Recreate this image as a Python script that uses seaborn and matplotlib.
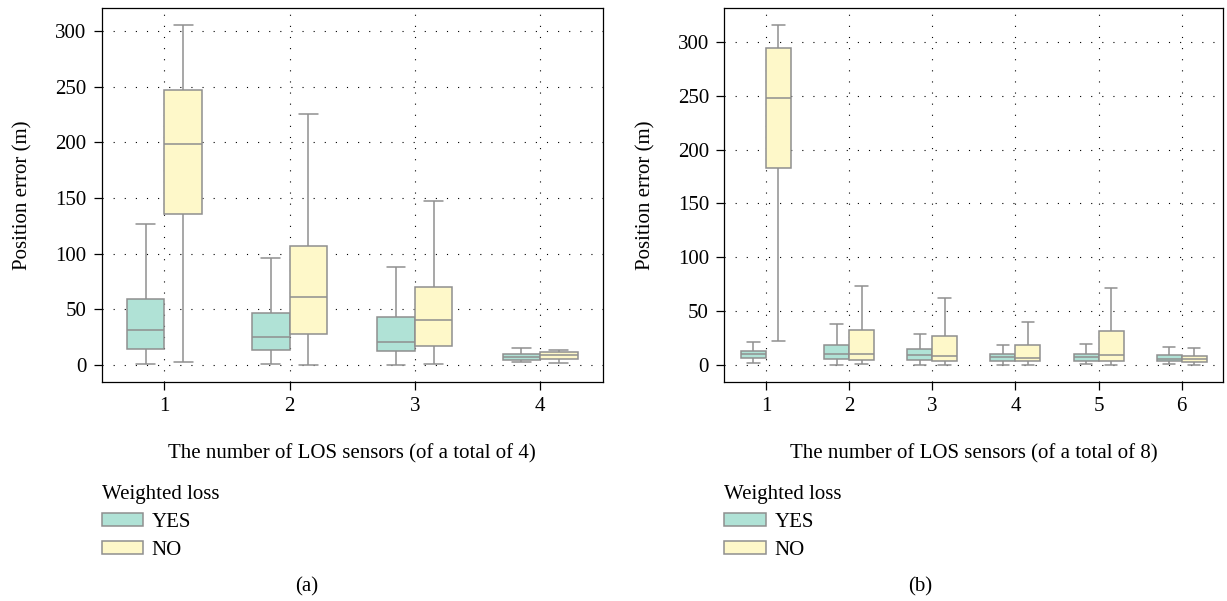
import numpy as np
import pandas as pd
import matplotlib
matplotlib.use("Agg")
import matplotlib.pyplot as plt
import seaborn as sns

# box summaries: [min, q1, median, q3, max]
los_a = ["1", "2", "3", "4"]
yes_a = [[0.6, 14.7, 31.7, 59.6, 126.7],
         [0.6, 13.5, 24.9, 46.4, 96.4],
         [0.0, 12.9, 20.4, 43.4, 88.3],
         [2.4, 4.5, 7.2, 10.2, 15.6]]
no_a = [[2.7, 136.0, 198.3, 246.5, 305.0],
        [0.0, 27.9, 61.0, 106.6, 225.0],
        [0.6, 17.1, 40.1, 70.4, 147.3],
        [1.5, 5.1, 8.7, 12.0, 13.5]]

los_b = ["1", "2", "3", "4", "5", "6"]
yes_b = [[1.5, 6.5, 9.9, 13.0, 21.4],
         [0.0, 5.3, 10.5, 18.6, 37.8],
         [0.0, 5.0, 9.0, 14.6, 28.8],
         [0.0, 3.7, 7.1, 9.9, 18.3],
         [0.6, 4.0, 7.1, 10.2, 19.5],
         [0.6, 3.7, 5.9, 9.6, 16.7]]
no_b = [[22.3, 183.3, 248.3, 294.0, 315.5],
        [0.6, 5.0, 9.9, 32.2, 73.0],
        [0.0, 3.7, 8.0, 27.2, 62.0],
        [0.0, 3.7, 6.8, 18.3, 40.2],
        [0.0, 3.7, 9.3, 31.6, 71.5],
        [0.0, 2.5, 5.6, 8.7, 16.1]]

hue_order = ["YES", "NO"]
colors = {"YES": "#b0e2d6", "NO": "#fef8c9"}
FS = 15


def build_frame(cats, yes, no):
    rows = []
    for c, y5, n5 in zip(cats, yes, no):
        for v in y5:
            rows.append((c, "YES", v))
        for v in n5:
            rows.append((c, "NO", v))
    return pd.DataFrame(rows, columns=["los", "weighted", "error"])


def draw(ax, df, total):
    sns.boxplot(data=df, x="los", y="error", hue="weighted", hue_order=hue_order,
                palette=colors, saturation=1, width=0.6, gap=0, whis=(0, 100),
                linecolor="#8f8f8f", linewidth=1.1, showfliers=False, ax=ax)
    ax.grid(True, color="black", linestyle=(0, (1, 9)), linewidth=0.8)
    ax.set_axisbelow(True)
    ax.set_yticks([0, 50, 100, 150, 200, 250, 300])
    ax.set_ylabel("Position error (m)", fontsize=FS, labelpad=16)
    ax.set_xlabel("The number of LOS sensors (of a total of %d)" % total,
                  fontsize=FS, labelpad=20)
    ax.tick_params(bottom=True, left=True, top=False, right=False,
                   direction="out", length=6, width=0.9, labelsize=FS, pad=5,
                   color="black", labelcolor="black")
    for s in ax.spines.values():
        s.set_visible(True)
        s.set_color("black")
        s.set_linewidth(0.9)


sns.set_style("white")
plt.rcParams["font.family"] = ["Liberation Serif", "DejaVu Serif"]
plt.rcParams["text.color"] = "black"
plt.rcParams["axes.labelcolor"] = "black"

fig = plt.figure(figsize=(12.27, 6.01), dpi=100)
ax_a = fig.add_axes([0.0829, 0.3644, 0.4083, 0.6218])
ax_b = fig.add_axes([0.5903, 0.3644, 0.4067, 0.6218])

draw(ax_a, build_frame(los_a, yes_a, no_a), 4)
draw(ax_b, build_frame(los_b, yes_b, no_b), 8)

for ax, x0 in [(ax_a, 0.0829), (ax_b, 0.5903)]:
    sns.move_legend(ax, "upper left", bbox_to_anchor=(x0, 0.193),
                    bbox_transform=fig.transFigure, frameon=False,
                    title="Weighted loss", fontsize=FS, title_fontsize=FS,
                    alignment="left", borderpad=0, borderaxespad=0,
                    handlelength=2.0, handleheight=0.62, handletextpad=0.4,
                    labelspacing=0.42)

fig.text(0.25, 0.024, "(a)", ha="center", va="center", fontsize=FS)
fig.text(0.75, 0.024, "(b)", ha="center", va="center", fontsize=FS)

fig.savefig("out.png", dpi=100)
